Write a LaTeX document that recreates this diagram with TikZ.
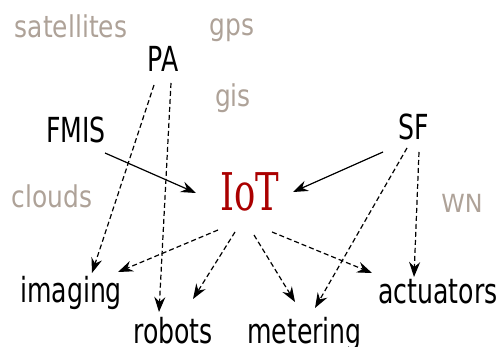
\documentclass[tikz,border=0pt]{standalone}
\usepackage{fontspec}
\setmainfont[FakeStretch=0.73]{DejaVu Sans}
\newfontfamily\grayfont[FakeStretch=0.83]{DejaVu Sans}
\newfontfamily\wnfont[FakeStretch=0.95]{DejaVu Sans}
\newfontfamily\iotfont[FakeStretch=0.68]{DejaVu Serif}
\usetikzlibrary{arrows.meta,calc}
\definecolor{bgword}{RGB}{174,162,152}
\definecolor{iotred}{RGB}{170,0,0}
\tikzset{
  word/.style={anchor=base,inner sep=0pt,font=\fontsize{34.5}{36}\selectfont,text=black},
  grayword/.style={anchor=base,inner sep=0pt,font=\grayfont\fontsize{30}{32}\selectfont,text=bgword},
  iotword/.style={anchor=base,inner sep=0pt,font=\iotfont\fontsize{52}{54}\selectfont,text=iotred},
  solidarrow/.style={line width=1.2pt,-{Stealth[length=15pt,width=11pt,inset=5pt]}},
  dasharrow/.style={line width=1.2pt,dash pattern=on 5pt off 3pt,-{Stealth[length=15pt,width=11pt,inset=5pt]}}
}
\begin{document}
\begin{tikzpicture}[x=1pt,y=-1pt]
\useasboundingbox (0,0) rectangle (500,347);
\node[grayword] (satellites) at (71,38) {satellites};
\node[grayword] (gps) at (232,36) {gps};
\node[grayword] (gis) at (233,107) {gis};
\node[grayword] (clouds) at (52,208) {clouds};
\node[grayword,font=\wnfont\fontsize{25}{27}\selectfont] (wn) at (462,213) {WN};
\node[word] (pa) at (163,72) {PA};
\node[word] (fmis) at (76,143) {FMIS};
\node[word] (sf) at (414,140) {SF};
\node[iotword] (iot) at (249.5,211) {IoT};
\node[word] (imaging) at (71,302) {imaging};
\node[word] (robots) at (173,343.5) {robots};
\node[word] (metering) at (304.5,343.5) {metering};
\node[word] (actuators) at (438,303) {actuators};
\draw[solidarrow] ($(fmis.base)+(29,10)$) -- ($(iot.base)+(-53.5,-18)$);
\draw[solidarrow] ($(sf.base)+(-31,12)$) -- ($(iot.base)+(43.5,-19)$);
\draw[dasharrow] ($(pa.base)+(-9,13)$) -- ($(imaging.base)+(21,-29)$);
\draw[dasharrow] ($(pa.base)+(8,11)$) -- ($(robots.base)+(-14,-31.5)$);
\draw[dasharrow] ($(sf.base)+(-7,8)$) -- ($(metering.base)+(10.5,-35.5)$);
\draw[dasharrow] ($(sf.base)+(5,12)$) -- ($(actuators.base)+(-24,-26)$);
\draw[dasharrow] ($(iot.base)+(-31.5,19)$) -- ($(imaging.base)+(47,-30)$);
\draw[dasharrow] ($(iot.base)+(-14.5,21)$) -- ($(robots.base)+(20,-44.5)$);
\draw[dasharrow] ($(iot.base)+(4.5,24)$) -- ($(metering.base)+(-9.5,-41.5)$);
\draw[dasharrow] ($(iot.base)+(22.5,21)$) -- ($(actuators.base)+(-66,-30)$);
\end{tikzpicture}
\end{document}
